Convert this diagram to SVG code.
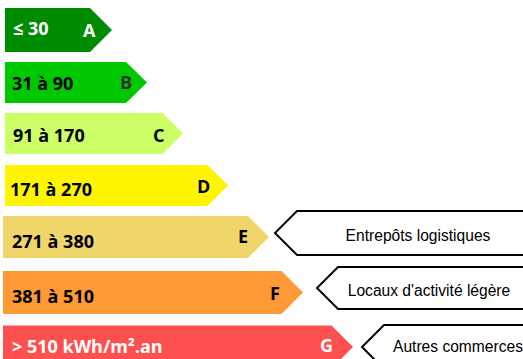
<svg xmlns="http://www.w3.org/2000/svg" width="523" height="359" viewBox="0 0 523 359">
<style>
.lbl{font-family:"Open Sans","Liberation Sans",sans-serif;font-weight:700;font-size:18px;fill:#000}
.w{fill:#fff}
.g{fill:#333}
.co{fill:#fff;stroke:#000;stroke-width:2}
.ct{font-family:"Liberation Sans",Arial,sans-serif;font-size:15.6px;fill:#000;text-anchor:middle}
</style>
<rect width="523" height="359" fill="#fff"/>
<g id="barA">
<polygon points="5,8 90,8 112,30 90,52 5,52" fill="#008C00"/>
<text class="lbl w" x="13" y="35">≤ 30</text>
<text class="lbl w" x="83" y="37">A</text>
</g>
<g id="barB">
<polygon points="5,62 126,62 147,82.5 126,103 5,103" fill="#00C800"/>
<text class="lbl" x="12" y="90">31 à 90</text>
<text class="lbl g" x="120" y="89">B</text>
</g>
<g id="barC">
<polygon points="5,113 162.5,113 183,133.5 162.5,154 5,154" fill="#CCFF66"/>
<text class="lbl" x="13" y="142">91 à 170</text>
<text class="lbl" x="153" y="142">C</text>
</g>
<g id="barD">
<polygon points="5,165 207.5,165 228,185.5 207.5,206 5,206" fill="#FFF500"/>
<text class="lbl" x="10" y="196">171 à 270</text>
<text class="lbl" x="197" y="193">D</text>
</g>
<g id="barE">
<polygon points="3,216 248,216 269,237 248,258 3,258" fill="#F0D56B"/>
<text class="lbl" x="12" y="248">271 à 380</text>
<text class="lbl" x="238" y="243">E</text>
</g>
<g id="barF">
<polygon points="3,271 281.5,271 303,292.5 281.5,314 3,314" fill="#FD9A35"/>
<text class="lbl" x="12" y="303">381 à 510</text>
<text class="lbl" x="270" y="300">F</text>
</g>
<g id="barG">
<polygon points="3,325.5 331.5,325.5 353,347 331.5,368.5 3,368.5" fill="#FF5050"/>
<text class="lbl w" x="12" y="353">&gt; 510 kWh/m².an</text>
<text class="lbl w" x="320" y="352">G</text>
</g>
<g id="callouts">
<g id="c1">
<polygon class="co" points="526,211 297,211 275,233 297,255 526,255"/>
<text class="ct" x="418" y="241">Entrepôts logistiques</text>
</g>
<g id="c2">
<polygon class="co" points="526,267 338,267 317,288 338,309 526,309"/>
<text class="ct" x="429" y="296">Locaux d'activité légère</text>
</g>
<g id="c3">
<polygon class="co" points="526,325 384,325 362,347 384,369 526,369"/>
<text class="ct" x="458" y="352">Autres commerces</text>
</g>
</g>
</svg>
